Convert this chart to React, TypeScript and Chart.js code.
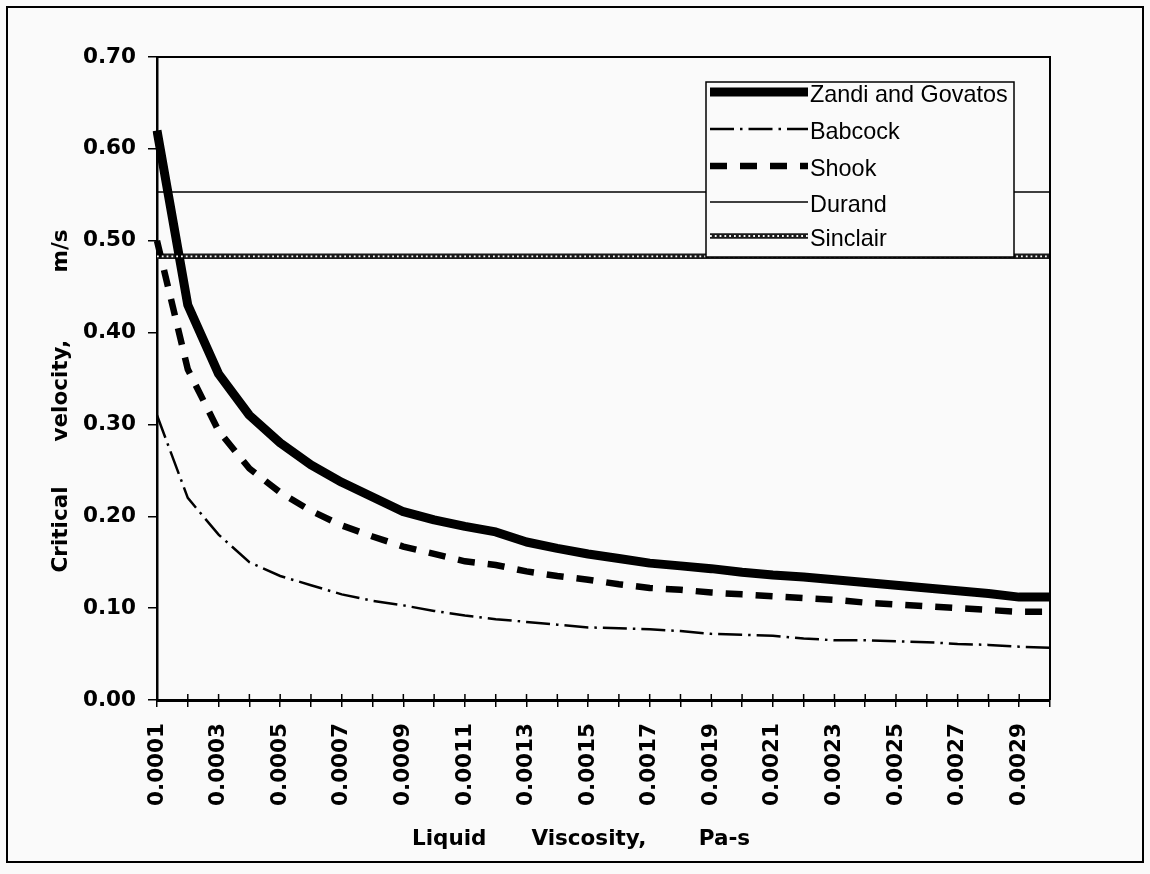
import { useEffect, useRef } from 'react';
import { Chart, registerables } from 'chart.js';

Chart.register(...registerables);

// ---- data ----
const categories = [
  '0.0001', '0.0002', '0.0003', '0.0004', '0.0005', '0.0006', '0.0007', '0.0008', '0.0009', '0.0010',
  '0.0011', '0.0012', '0.0013', '0.0014', '0.0015', '0.0016', '0.0017', '0.0018', '0.0019', '0.0020',
  '0.0021', '0.0022', '0.0023', '0.0024', '0.0025', '0.0026', '0.0027', '0.0028', '0.0029', '0.0030',
];

const zandi = [
  0.62, 0.43, 0.355, 0.31, 0.28, 0.256, 0.237, 0.221, 0.205, 0.196,
  0.189, 0.183, 0.172, 0.165, 0.159, 0.154, 0.149, 0.146, 0.143, 0.139,
  0.136, 0.134, 0.131, 0.128, 0.125, 0.122, 0.119, 0.116, 0.112, 0.112,
];

const babcock = [
  0.31, 0.22, 0.18, 0.15, 0.135, 0.125, 0.115, 0.108, 0.103, 0.097,
  0.092, 0.088, 0.085, 0.082, 0.079, 0.078, 0.077, 0.075, 0.072, 0.071,
  0.07, 0.067, 0.065, 0.065, 0.064, 0.063, 0.061, 0.06, 0.058, 0.057,
];

const shook = [
  0.5, 0.36, 0.293, 0.252, 0.226, 0.206, 0.19, 0.178, 0.167, 0.159,
  0.151, 0.147, 0.14, 0.135, 0.131, 0.126, 0.122, 0.12, 0.117, 0.115,
  0.113, 0.111, 0.109, 0.106, 0.104, 0.102, 0.1, 0.098, 0.096, 0.096,
];

const levelSpan = ['0.0001', '0.0030'];
const durandLevel = [0.553, 0.553];
const sinclairLevel = [0.483, 0.483];

const seriesNames = ['Zandi and Govatos', 'Babcock', 'Shook', 'Durand', 'Sinclair'];

const yMin = 0;
const yMax = 0.7;
const yStep = 0.1;

// trailing spaces keep the visible words where the original had them
const xTitle = 'Liquid      Viscosity,       Pa-s      ';
const yTitle = 'Critical      velocity,         m/s      ';

// ---- styles ----
const BG = '#fafafa';
const INK = '#000';
const boldFont = { family: '"DejaVu Sans", sans-serif', size: 21.5, weight: 'bold' as const };
const legendFont = '23.4px "Liberation Sans", Arial, sans-serif';

const SINCLAIR_DARK = '#1a1a1a';

function drawSinclairBeads(ctx: CanvasRenderingContext2D, x1: number, x2: number, y: number) {
  ctx.save();
  ctx.strokeStyle = BG;
  ctx.lineWidth = 1.8;
  ctx.setLineDash([1.8, 3.0]);
  ctx.lineCap = 'butt';
  ctx.beginPath();
  ctx.moveTo(x1, y);
  ctx.lineTo(x2, y);
  ctx.stroke();
  ctx.restore();
}

const backgroundPlugin = {
  id: 'bgFrame',
  beforeDraw(chart: any) {
    const { ctx, width, height } = chart;
    ctx.save();
    ctx.fillStyle = BG;
    ctx.fillRect(0, 0, width, height);
    ctx.strokeStyle = INK;
    ctx.lineWidth = 2;
    ctx.strokeRect(7, 7, 1136, 855);
    ctx.restore();
  },
  afterDraw(chart: any) {
    const { ctx, chartArea } = chart;
    ctx.save();
    ctx.strokeStyle = INK;
    ctx.lineWidth = 2;
    ctx.beginPath();
    ctx.moveTo(chartArea.left, chartArea.top);
    ctx.lineTo(chartArea.right, chartArea.top);
    ctx.lineTo(chartArea.right, chartArea.bottom);
    ctx.stroke();
    // inner half of the x tick marks (ticks cross the axis)
    const xs = chart.scales.x;
    ctx.lineWidth = 1.5;
    ctx.beginPath();
    xs.ticks.forEach((_t: any, i: number) => {
      const px = xs.getPixelForTick(i);
      ctx.moveTo(px, chartArea.bottom);
      ctx.lineTo(px, chartArea.bottom - 6);
    });
    ctx.stroke();
    ctx.restore();
  },
};

const overlayPlugin = {
  id: 'overlayLegend',
  afterDatasetsDraw(chart: any) {
    const { ctx } = chart;
    const meta = chart.getDatasetMeta(4);
    if (meta && meta.data.length >= 2) {
      const p0 = meta.data[0];
      const p1 = meta.data[meta.data.length - 1];
      drawSinclairBeads(ctx, p0.x, p1.x, p0.y);
    }

    const bx = 706, by = 82, bw = 308, bh = 175;
    ctx.save();
    ctx.fillStyle = BG;
    ctx.fillRect(bx, by, bw, bh);
    ctx.strokeStyle = INK;
    ctx.lineWidth = 1.5;
    ctx.strokeRect(bx, by, bw, bh);

    const sx1 = 710, sx2 = 808, tx = 810;
    const rowY = [92, 129, 166, 202, 236];
    chart.data.datasets.forEach((ds: any, i: number) => {
      const y = rowY[i];
      ctx.save();
      ctx.strokeStyle = ds.borderColor || INK;
      ctx.lineWidth = ds.borderWidth;
      ctx.setLineDash(ds.borderDash || []);
      ctx.lineCap = 'butt';
      ctx.beginPath();
      ctx.moveTo(sx1, y);
      ctx.lineTo(sx2, y);
      ctx.stroke();
      ctx.restore();
      if (i === 4) drawSinclairBeads(ctx, sx1, sx2, y);
      ctx.fillStyle = INK;
      ctx.font = legendFont;
      ctx.textBaseline = 'middle';
      ctx.textAlign = 'left';
      ctx.fillText(seriesNames[i], tx, y + 4);
    });
    ctx.restore();
  },
};

export default function App() {
  const ref = useRef<HTMLCanvasElement>(null);

  useEffect(() => {
    if (!ref.current) return;
    const chart = new Chart(ref.current, {
      type: 'line',
      data: {
        labels: categories,
        datasets: [
          {
            label: seriesNames[0],
            data: zandi,
            borderColor: INK,
            borderWidth: 9,
            pointRadius: 0,
            tension: 0,
            borderJoinStyle: 'round',
          },
          {
            label: seriesNames[1],
            data: babcock,
            borderColor: INK,
            borderWidth: 2.5,
            borderDash: [24, 6, 2.5, 6],
            pointRadius: 0,
            tension: 0,
          },
          {
            label: seriesNames[2],
            data: shook,
            borderColor: INK,
            borderWidth: 6.5,
            borderDash: [17, 13],
            pointRadius: 0,
            tension: 0,
          },
          {
            label: seriesNames[3],
            data: levelSpan.map((x, i) => ({ x, y: durandLevel[i] })),
            borderColor: INK,
            borderWidth: 1.5,
            pointRadius: 0,
          },
          {
            label: seriesNames[4],
            data: levelSpan.map((x, i) => ({ x, y: sinclairLevel[i] })),
            borderColor: SINCLAIR_DARK,
            borderWidth: 5.5,
            pointRadius: 0,
          },
        ],
      },
      options: {
        animation: false,
        responsive: false,
        devicePixelRatio: 1,
        layout: { padding: { left: 0, top: 57, right: 100, bottom: 0 } },
        plugins: {
          legend: { display: false },
          tooltip: { enabled: false },
        },
        scales: {
          x: {
            type: 'category',
            offset: false,
            grid: { drawOnChartArea: false, tickLength: 7, color: INK, lineWidth: 1.5 },
            border: { display: true, color: INK, width: 3 },
            ticks: {
              autoSkip: false,
              minRotation: 90,
              maxRotation: 90,
              padding: 16,
              color: INK,
              font: boldFont,
              callback: (_v: any, i: number) => (i % 2 === 0 ? categories[i] : ''),
            },
            title: {
              display: true,
              text: xTitle,
              color: INK,
              font: boldFont,
              padding: { top: 0, bottom: 22 },
            },
            afterFit: (s: any) => {
              s.height = 174;
            },
          },
          y: {
            min: yMin,
            max: yMax,
            grid: { drawOnChartArea: false, tickLength: 9, color: INK, lineWidth: 1.5 },
            border: { display: true, color: INK, width: 2.5 },
            ticks: {
              stepSize: yStep,
              padding: 12,
              color: INK,
              font: boldFont,
              callback: (v: any) => Number(v).toFixed(2),
            },
            title: {
              display: true,
              text: yTitle,
              color: INK,
              font: boldFont,
              padding: { top: 49, bottom: 0 },
            },
            afterFit: (s: any) => {
              s.width = 157;
            },
          },
        },
      },
      plugins: [backgroundPlugin, overlayPlugin],
    });
    return () => chart.destroy();
  }, []);

  return (
    <div style={{ position: 'absolute', left: 0, top: 0, width: 1150, height: 874 }}>
      <canvas ref={ref} width={1150} height={874} style={{ display: 'block' }} />
    </div>
  );
}
